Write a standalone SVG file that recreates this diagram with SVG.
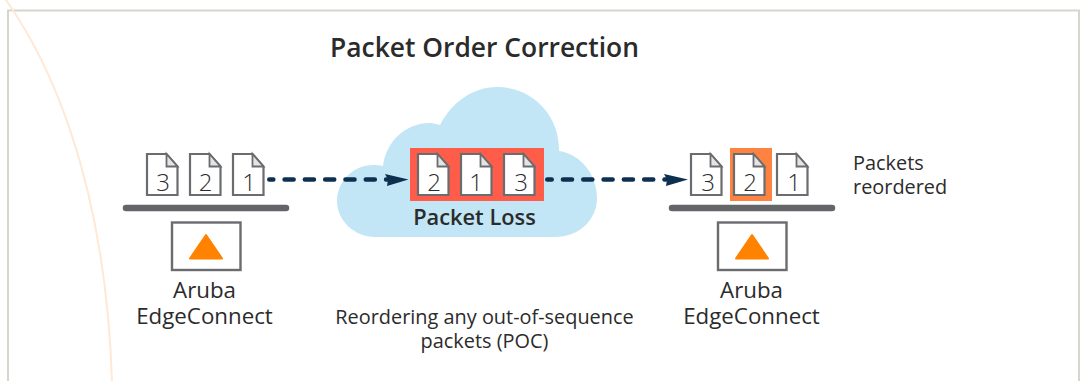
<svg xmlns="http://www.w3.org/2000/svg" width="1084" height="381" viewBox="0 0 1084 381">
<style>
text{font-family:"Open Sans","Noto Sans",sans-serif;fill:#2b2b2b}
.lbl{font-size:22.300px;text-anchor:middle}
.num{font-size:24px;font-weight:300;text-anchor:middle}
.note{font-size:19.900px}
.doc{fill:#fff;stroke:#6b6c70;stroke-width:2.200;stroke-linejoin:miter}
.fold{fill:#e4e4e4;stroke:#6b6c70;stroke-width:1.800}
.bar{stroke:#636569;stroke-width:6.500;stroke-linecap:round;fill:none}
.box{fill:#fff;stroke:#6b6c70;stroke-width:2.400}
.tri{fill:#ff8300;stroke:#ff8300;stroke-width:2;stroke-linejoin:round}
.dash{stroke:#0d3050;stroke-width:4.600;stroke-linecap:round;stroke-dasharray:9 11.300;fill:none}
</style>
<defs>
<g id="d"><path class="doc" d="M0 0H19.500L30.500 12.500V41H0Z"/><path class="fold" d="M19.500 0V12.500H30.500Z"/></g>
</defs>
<rect width="1084" height="381" fill="#fff"/>
<g id="frame" fill="none">
<path d="M8 381V10.500H1079V381" stroke="#d6d6ce" stroke-width="2"/>
<path d="M6 0C44 54 105 170 112 381" stroke="#ffe9d6" stroke-width="2"/>
</g>
<text x="330" y="57" style="font-size:26.400px;font-weight:600">Packet Order Correction</text>
<g id="cloud"><path fill="#c2e6f5" d="M375 237C354 237 337 220 337 201C337 181 354 165 373 165C376 165 380 165 383 166C386 142 405 123 430 123C433 123 437 124 440 125C452 102 473 87 497 87C532 87 560 115 559 151C581 154 597 175 597 198C597 220 579 237 555 237Z"/>
<text x="474.500" y="225" style="font-size:21.800px;font-weight:600;text-anchor:middle">Packet Loss</text></g>
<g id="connectors">
<path class="dash" d="M269.300 179.500H388" stroke-dashoffset="5"/><path d="M385 174L408.500 179.500L387 186L388 179.500Z" fill="#0d3050"/>
<path class="dash" d="M547.300 179.500H666" stroke-dashoffset="4.600"/><path d="M664 174L688 179.500L666 186L667 179.500Z" fill="#0d3050"/>
</g>
<g id="source">
<path class="bar" d="M126 208H286"/>
<rect class="box" x="172" y="222.500" width="68.500" height="47.500"/>
<path class="tri" d="M206 235L222 258.500H190Z"/>
<g id="s3"><use href="#d" x="147" y="154"/><text class="num" x="163" y="191">3</text></g>
<g id="s2"><use href="#d" x="190" y="154"/><text class="num" x="205.500" y="191">2</text></g>
<g id="s1"><use href="#d" x="233" y="154"/><text class="num" x="249" y="191">1</text></g>
<text class="lbl" x="204.500" y="298">Aruba</text><text class="lbl" x="204.500" y="324">EdgeConnect</text>
</g>
<g id="loss">
<rect x="410" y="148" width="134" height="53" fill="#ff5c4a"/>
<g id="l2"><use href="#d" x="418" y="154"/><text class="num" x="434" y="191">2</text></g>
<g id="l1"><use href="#d" x="461" y="154"/><text class="num" x="476" y="191">1</text></g>
<g id="l3"><use href="#d" x="504" y="154"/><text class="num" x="521" y="191">3</text></g>
</g>
<g id="target">
<rect x="730" y="148" width="42" height="53" fill="#ff8340"/>
<path class="bar" d="M672 208H832"/>
<rect class="box" x="718" y="222.500" width="68.500" height="47.500"/>
<path class="tri" d="M752 235L768 258.500H736Z"/>
<g id="t3"><use href="#d" x="691" y="154"/><text class="num" x="708" y="191">3</text></g>
<g id="t2"><use href="#d" x="734" y="154"/><text class="num" x="750" y="191">2</text></g>
<g id="t1"><use href="#d" x="777" y="154"/><text class="num" x="794" y="191">1</text></g>
<text class="lbl" x="751.500" y="298">Aruba</text><text class="lbl" x="751.500" y="324">EdgeConnect</text>
</g>
<g id="notes">
<text x="853" y="170" class="note">Packets</text><text x="853" y="194" class="note">reordered</text>
<text x="484.500" y="324" class="note" style="text-anchor:middle">Reordering any out-of-sequence</text>
<text x="484.500" y="348" class="note" style="text-anchor:middle">packets (POC)</text>
</g>
</svg>
